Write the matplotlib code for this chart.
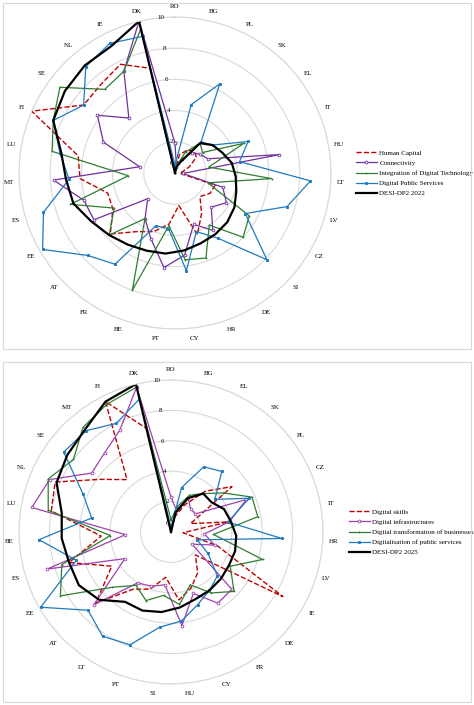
import numpy as np
import matplotlib
matplotlib.use("Agg")
import matplotlib.pyplot as plt
from matplotlib.patches import Rectangle

plt.rcParams['font.family'] = ['Liberation Serif', 'DejaVu Serif']

cats22 = ["RO","BG","PL","SK","EL","IT","HU","LT","LV","CZ","SI","DE","HR","CY","PT","BE","FR","AT","EE","ES","MT","LU","FI","SE","NL","IE","DK"]
human22 = [0,1.2,1.6,1.9,1.7,1.0,0.5,0.3,2.7,2.6,2.2,3.1,4.2,2.1,3.3,4.0,4.5,5.7,4.6,4.5,6.1,6.3,10,7.3,7.4,7.8,6.9]
conn22 = [1.9,0.4,1.0,1.7,2.0,2.3,6.8,0.5,3.2,3.8,3.2,4.4,3.5,5.3,6.1,4.5,3.5,2.4,6.0,6.1,7.8,2.3,5.0,6.2,4.6,7.3,10]
integ22 = [0,0.5,1.5,2.5,2.2,4.8,2.2,6.2,2.2,5.5,6.0,4.0,5.8,5.6,3.4,8.0,3.5,5.8,4.5,7.0,3.0,8.0,8.5,9.2,7.0,7.3,9.5]
dps22 = [0.5,4.5,6.4,2.6,3.0,5.1,4.2,8.7,7.5,5.2,8.1,5.0,4.0,6.3,3.6,3.6,7.0,7.7,9.8,8.8,6.8,7.5,8.5,7.3,8.9,9.3,9.0]
desi22 = [0,0.4,0.8,2.5,3.0,3.3,3.7,3.9,4.1,4.4,4.6,4.7,4.8,5.0,5.2,5.3,5.5,5.8,6.2,6.8,7.0,7.4,8.5,8.8,9.0,9.1,10]

cats25 = ["RO","BG","EL","SK","PL","CZ","IT","HR","LV","IE","DE","FR","CY","HU","SI","PT","LT","AT","EE","ES","BE","LU","NL","SE","MT","FI","DK"]
skills25 = [0,1.0,2.0,3.5,5.0,1.4,3.8,0.8,3.2,8.5,2.2,3.2,3.9,4.5,3.0,4.0,4.5,6.8,4.5,7.0,4.6,8.0,8.3,5.8,4.5,9.6,7.0]
infra25 = [2.3,1.5,2.5,2.0,2.0,5.4,3.9,2.2,3.0,1.6,5.5,5.6,4.3,6.2,3.5,3.8,4.0,7.0,3.5,8.5,3.0,9.3,8.7,6.5,6.8,7.5,9.8]
busin25 = [0.8,1.7,2.7,3.3,4.3,5.8,5.8,2.8,6.3,4.5,5.7,4.8,3.7,4.8,4.2,4.8,4.2,5.3,8.4,7.5,4.0,8.2,8.8,8.0,9.0,9.4,9.8]
public25 = [0.3,3.0,4.8,5.2,3.6,5.6,3.8,7.3,1.8,2.8,4.2,4.6,5.1,5.9,6.3,7.9,8.2,7.5,9.9,6.5,8.7,5.3,6.3,8.8,8.7,8.0,9.0]
desi25 = [0,1.3,2.5,3.3,3.3,3.8,4.0,4.3,4.4,4.4,4.5,4.6,4.7,5.0,5.3,5.5,5.5,6.5,7.0,7.0,7.2,7.3,8.2,8.5,8.8,9.6,10]

W, H = 474, 705
fig = plt.figure(figsize=(W/100, H/100), dpi=100)

for (y0, y1) in [(3, 349), (362, 702)]:
    fig.patches.append(Rectangle((3/W, 1-y1/H), (W-6)/W, (y1-y0)/H, transform=fig.transFigure,
                                 fill=False, edgecolor='#d9d9d9', lw=0.8))

def radar(rect, cats, series, leg_anchor):
    ax = fig.add_axes(rect, projection='polar')
    n = len(cats)
    ang = np.arange(n) * 2*np.pi/n
    ax.set_theta_zero_location('N')
    ax.set_theta_direction(-1)
    ax.set_ylim(0, 10)
    ax.set_yticks([0,2,4,6,8,10])
    ax.set_yticklabels([])
    ax.set_xticks(ang)
    ax.set_xticklabels(cats, fontsize=5)
    ax.tick_params(axis='x', pad=-3)
    ax.xaxis.grid(False)
    ax.yaxis.grid(True, color='#d9d9d9', lw=0.8)
    ax.spines['polar'].set_color('#d9d9d9')
    ax.spines['polar'].set_linewidth(0.8)
    for v in [0,2,4,6,8,10]:
        ax.text(np.deg2rad(-4 if v else -10), v if v else 0.6, str(v), fontsize=5, ha='right',
                va='center')
    ac = np.append(ang, ang[0])
    for vals, lab, col, ls, mk, lw in series:
        v = np.append(vals, vals[0])
        ax.plot(ac, v, color=col, ls=ls, lw=lw, marker=mk, ms=2 if mk else 0,
                mfc='white' if mk == 'o' else col, mew=0.6, label=lab)
    ax.legend(loc='center left', bbox_to_anchor=leg_anchor, bbox_transform=fig.transFigure,
              frameon=False, fontsize=5, handlelength=3, handletextpad=0.4,
              labelspacing=0.6, borderaxespad=0)
    ax.set_facecolor('none')
    return ax

r1 = 156
radar([(175-r1)/W, 1-(173+r1)/H, 2*r1/W, 2*r1/H], cats22, [
    (human22, "Human Capital", '#c00000', '--', None, 1.0),
    (conn22, "Connectivity", '#7030a0', '-', 'o', 0.9),
    (integ22, "Integration of Digital Technology", '#2e7d32', '-', '+', 0.9),
    (dps22, "Digital Public Services", '#1f7ac0', '-', 's', 0.9),
    (desi22, "DESI-DP2 2022", 'black', '-', None, 1.6),
], (353/W, 1-173/H))

r2 = 152
radar([(171-r2)/W, 1-(532+r2)/H, 2*r2/W, 2*r2/H], cats25, [
    (skills25, "Digital skills", '#c00000', '--', None, 1.0),
    (infra25, "Digital infrastructures", '#a040b0', '-', 'o', 0.9),
    (busin25, "Digital transformation of businesses", '#2e7d32', '-', '+', 0.9),
    (public25, "Digitalisation of public services", '#1f7ac0', '-', 's', 0.9),
    (desi25, "DESI-DP2 2025", 'black', '-', None, 1.6),
], (346/W, 1-532/H))

fig.savefig("out.png", dpi=100)
